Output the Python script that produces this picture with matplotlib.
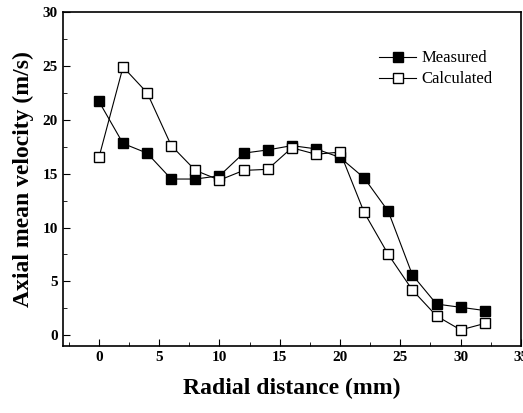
import matplotlib
matplotlib.use('Agg')
import matplotlib.pyplot as plt
from matplotlib.ticker import MultipleLocator

plt.rcParams['font.family'] = ['Liberation Serif', 'DejaVu Serif']

radial = [0, 2, 4, 6, 8, 10, 12, 14, 16, 18, 20, 22, 24, 26, 28, 30, 32]
measured = [21.7, 17.8, 16.9, 14.5, 14.5, 14.8, 16.9, 17.2, 17.6, 17.3, 16.5,
            14.6, 11.5, 5.6, 2.9, 2.6, 2.3]
calculated = [16.5, 24.9, 22.5, 17.6, 15.3, 14.4, 15.3, 15.4, 17.4, 16.8, 17.0,
              11.4, 7.5, 4.2, 1.8, 0.5, 1.1]

fig = plt.figure(figsize=(5.23, 4.13), dpi=100)
ax = fig.add_axes([0.120, 0.162, 0.876, 0.809])

ax.plot(radial, measured, color='black', lw=0.8, marker='s', ms=7,
        mfc='black', mec='black', label='Measured')
ax.plot(radial, calculated, color='black', lw=0.8, marker='s', ms=7,
        mfc='white', mec='black', label='Calculated')

ax.set_xlim(-3, 35)
ax.set_ylim(-1, 30)
ax.xaxis.set_major_locator(MultipleLocator(5))
ax.xaxis.set_minor_locator(MultipleLocator(2.5))
ax.yaxis.set_major_locator(MultipleLocator(5))
ax.yaxis.set_minor_locator(MultipleLocator(2.5))
ax.tick_params(which='both', direction='in', labelsize=11)
ax.tick_params(which='major', length=5)
ax.tick_params(which='minor', length=3)
for lab in ax.get_xticklabels() + ax.get_yticklabels():
    lab.set_fontweight('bold')
for s in ax.spines.values():
    s.set_linewidth(1.2)

ax.set_xlabel('Radial distance (mm)', fontsize=17, fontweight='bold', labelpad=10)
ax.set_ylabel('Axial mean velocity (m/s)', fontsize=17, fontweight='bold', labelpad=6)

leg = ax.legend(loc='upper right', bbox_to_anchor=(0.97, 0.93), frameon=False,
                fontsize=12, handlelength=2.2, handletextpad=0.3, labelspacing=0.3)

fig.savefig('out.png', dpi=100)
